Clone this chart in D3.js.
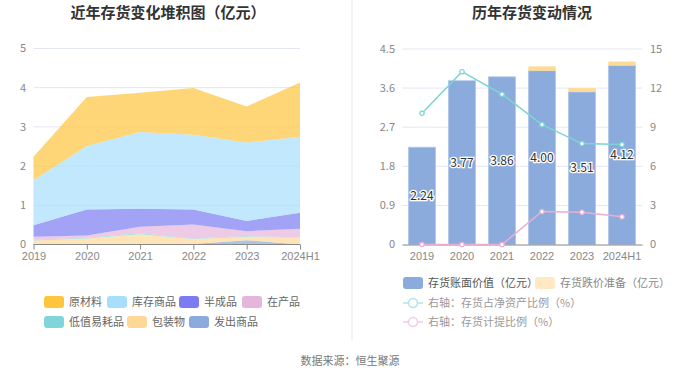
<!DOCTYPE html>
<html>
<head>
<meta charset="utf-8">
<script src="https://cdn.jsdelivr.net/npm/d3@7/dist/d3.min.js"></script>
<style>
  body { margin: 0; background: #fff; }
  svg { font-family: "Noto Sans CJK SC", "Noto Sans", sans-serif; }
</style>
</head>
<body>
<div id="chart"></div>
<script>
// 年份
const years = ['2019', '2020', '2021', '2022', '2023', '2024H1'];

// 左图：存货构成（亿元）
const stackKeys = ['发出商品', '包装物', '低值易耗品', '在产品', '半成品', '库存商品', '原材料'];
const faChu = [0, 0, 0, 0.01, 0.11, 0];
const baoZhuang = [0.10, 0.15, 0.26, 0.13, 0.09, 0.17];
const diZhi = [0.02, 0.02, 0.03, 0.01, 0.02, 0.0];
const zaiChan = [0.08, 0.06, 0.16, 0.36, 0.12, 0.23];
const banCheng = [0.29, 0.66, 0.46, 0.38, 0.26, 0.41];
const kuCun = [1.15, 1.62, 1.96, 1.91, 2.00, 1.94];
const yuanCai = [0.60, 1.25, 1.00, 1.19, 0.92, 1.38];
const leftTicks = [0, 1, 2, 3, 4, 5];

// 右图
const bookValue = [2.24, 3.77, 3.86, 4.00, 3.51, 4.12];
const reserve = [0, 0, 0, 0.10, 0.09, 0.09];
const ratioNetAsset = [10.07, 13.26, 11.53, 9.20, 7.74, 7.67];
const ratioProvision = [0, 0, 0, 2.53, 2.48, 2.12];
const rightTicksL = [0, 0.9, 1.8, 2.7, 3.6, 4.5];
const rightTicksR = [0, 3, 6, 9, 12, 15];

const colors = {
  '原材料': '#FFC53D',
  '库存商品': '#A7DEFB',
  '半成品': '#7B7BF2',
  '在产品': '#E6B5DC',
  '低值易耗品': '#7FD5DA',
  '包装物': '#FFD898',
  '发出商品': '#8AABDB'
};

const W = 700, H = 378;
const svg = d3.select('#chart').append('svg')
  .attr('width', W).attr('height', H);

// 分割线
svg.append('rect').attr('x', 351).attr('y', 0).attr('width', 2).attr('height', 340).attr('fill', '#f4f4f4');

// 标题
svg.append('text').attr('x', 168).attr('y', 18).attr('text-anchor', 'middle')
  .attr('font-size', 15).attr('font-weight', 'bold').attr('fill', '#333')
  .text('近年存货变化堆积图（亿元）');
svg.append('text').attr('x', 532).attr('y', 18).attr('text-anchor', 'middle')
  .attr('font-size', 15).attr('font-weight', 'bold').attr('fill', '#333')
  .text('历年存货变动情况');

// ---------- 左图 ----------
const series = {
  '发出商品': faChu, '包装物': baoZhuang, '低值易耗品': diZhi, '在产品': zaiChan,
  '半成品': banCheng, '库存商品': kuCun, '原材料': yuanCai
};
const table = years.map((y, i) => {
  const row = { year: y };
  stackKeys.forEach(k => { row[k] = series[k][i]; });
  return row;
});
const stacked = d3.stack().keys(stackKeys)(table);

const xL = d3.scalePoint().domain(years).range([33.5, 300]);
const yL = d3.scaleLinear().domain([0, 5]).range([244.5, 48.5]);

const gL = svg.append('g');
gL.selectAll('.grid').data(leftTicks.slice(1)).enter().append('line')
  .attr('x1', 33.5).attr('x2', 300).attr('y1', d => yL(d)).attr('y2', d => yL(d))
  .attr('stroke', '#E3E7F3').attr('stroke-width', 1);

const area = d3.area()
  .x(d => xL(d.data.year))
  .y0(d => yL(d[0]))
  .y1(d => yL(d[1]));
gL.selectAll('.layer').data(stacked).enter().append('path')
  .attr('d', area)
  .attr('fill', d => colors[d.key])
  .attr('fill-opacity', 0.7);

const axL = gL.append('g').attr('transform', 'translate(0,244.5)')
  .call(d3.axisBottom(xL).tickSize(5).tickPadding(3));
axL.select('.domain').attr('stroke', '#888').attr('d', 'M33.5,0H300');
axL.selectAll('.tick line').attr('stroke', '#888');
axL.selectAll('text').attr('fill', '#888').attr('font-size', 11);

gL.selectAll('.ylab').data(leftTicks).enter().append('text')
  .attr('x', 26).attr('y', d => yL(d)).attr('dy', '0.35em')
  .attr('text-anchor', 'end').attr('font-size', 11).attr('fill', '#888')
  .text(d => d);

// 左图图例
const legL = [
  ['原材料', 44, 302], ['库存商品', 107, 302], ['半成品', 179, 302], ['在产品', 242, 302],
  ['低值易耗品', 44, 322], ['包装物', 127, 322], ['发出商品', 189, 322]
];
legL.forEach(([k, x, y]) => {
  svg.append('rect').attr('x', x).attr('y', y - 6).attr('width', 20).attr('height', 12)
    .attr('rx', 3).attr('fill', colors[k]);
  svg.append('text').attr('x', x + 25).attr('y', y).attr('dy', '0.35em')
    .attr('font-size', 11).attr('fill', '#666').text(k);
});

// ---------- 右图 ----------
const xR = d3.scaleBand().domain(years).range([402, 642]).paddingInner(0.32).paddingOuter(0.16);
const yR = d3.scaleLinear().domain([0, 4.5]).range([244.5, 49]);
const yR2 = d3.scaleLinear().domain([0, 15]).range([244.5, 49]);

const gR = svg.append('g');
gR.selectAll('.grid').data(rightTicksL.slice(1)).enter().append('line')
  .attr('x1', 402).attr('x2', 642).attr('y1', d => yR(d)).attr('y2', d => yR(d))
  .attr('stroke', '#E3E7F3');

gR.selectAll('.bar').data(years).enter().append('rect')
  .attr('x', d => xR(d)).attr('width', xR.bandwidth())
  .attr('y', (d, i) => yR(bookValue[i])).attr('height', (d, i) => yR(0) - yR(bookValue[i]))
  .attr('fill', '#8AABDB').attr('stroke', '#B5CAEA').attr('stroke-width', 0.8);
gR.selectAll('.bar2').data(years).enter().append('rect')
  .attr('x', d => xR(d)).attr('width', xR.bandwidth())
  .attr('y', (d, i) => yR(bookValue[i] + reserve[i]))
  .attr('height', (d, i) => yR(bookValue[i]) - yR(bookValue[i] + reserve[i]))
  .attr('fill', '#FFDA97');

const axR = gR.append('g').attr('transform', 'translate(0,244.5)')
  .call(d3.axisBottom(xR).tickSize(0).tickPadding(8));
axR.select('.domain').attr('stroke', '#888');
axR.selectAll('text').attr('fill', '#888').attr('font-size', 11);

gR.selectAll('.ylab').data(rightTicksL).enter().append('text')
  .attr('x', 395).attr('y', d => yR(d)).attr('dy', '0.35em')
  .attr('text-anchor', 'end').attr('font-size', 11).attr('fill', '#888').text(d => d);
gR.selectAll('.ylab2').data(rightTicksR).enter().append('text')
  .attr('x', 650).attr('y', d => yR2(d)).attr('dy', '0.35em')
  .attr('text-anchor', 'start').attr('font-size', 11).attr('fill', '#888').text(d => d);

const cx = d => xR(d) + xR.bandwidth() / 2;
const lineDefs = [
  [ratioNetAsset, '#7ED3D6'],
  [ratioProvision, '#E8AED6']
];
lineDefs.forEach(([vals, c]) => {
  const line = d3.line().x((d, i) => cx(years[i])).y(d => yR2(d));
  gR.append('path').attr('d', line(vals)).attr('fill', 'none')
    .attr('stroke', c).attr('stroke-width', 1.5);
  gR.selectAll(null).data(vals).enter().append('circle')
    .attr('cx', (d, i) => cx(years[i])).attr('cy', d => yR2(d)).attr('r', 2.2)
    .attr('fill', '#fff').attr('stroke', c).attr('stroke-width', 1.2);
});

// 柱子数值标签
gR.selectAll('.val').data(bookValue).enter().append('text')
  .attr('x', (d, i) => cx(years[i])).attr('y', d => yR(d / 2)).attr('dy', '0.35em')
  .attr('text-anchor', 'middle').attr('font-size', 12).attr('fill', '#333')
  .attr('stroke', '#fff').attr('stroke-width', 2.5).attr('paint-order', 'stroke')
  .text(d => d.toFixed(2));

// 右图图例
svg.append('rect').attr('x', 403).attr('y', 277).attr('width', 20).attr('height', 12)
  .attr('rx', 3).attr('fill', '#8AABDB');
svg.append('text').attr('x', 428).attr('y', 283).attr('dy', '0.35em')
  .attr('font-size', 11).attr('fill', '#555').text('存货账面价值（亿元）');
svg.append('rect').attr('x', 535).attr('y', 277).attr('width', 20).attr('height', 12)
  .attr('rx', 3).attr('fill', '#FFE8C3');
svg.append('text').attr('x', 560).attr('y', 283).attr('dy', '0.35em')
  .attr('font-size', 11).attr('fill', '#888').text('存货跌价准备（亿元）');

[['右轴：存货占净资产比例（%）', '#7ED3D6', 303], ['右轴：存货计提比例（%）', '#E8AED6', 322]]
  .forEach(([t, c, y]) => {
    const g = svg.append('g').attr('opacity', 0.6);
    g.append('line').attr('x1', 403).attr('x2', 423).attr('y1', y).attr('y2', y)
      .attr('stroke', c).attr('stroke-width', 1.5);
    g.append('circle').attr('cx', 413).attr('cy', y).attr('r', 4.5)
      .attr('fill', '#fff').attr('stroke', c).attr('stroke-width', 1.5);
    svg.append('text').attr('x', 428).attr('y', y).attr('dy', '0.35em')
      .attr('font-size', 11).attr('fill', '#999').text(t);
  });

// 数据来源
svg.append('text').attr('x', 350).attr('y', 361).attr('dy', '0.35em')
  .attr('text-anchor', 'middle').attr('font-size', 11).attr('fill', '#777')
  .text('数据来源：恒生聚源');
</script>
</body>
</html>
